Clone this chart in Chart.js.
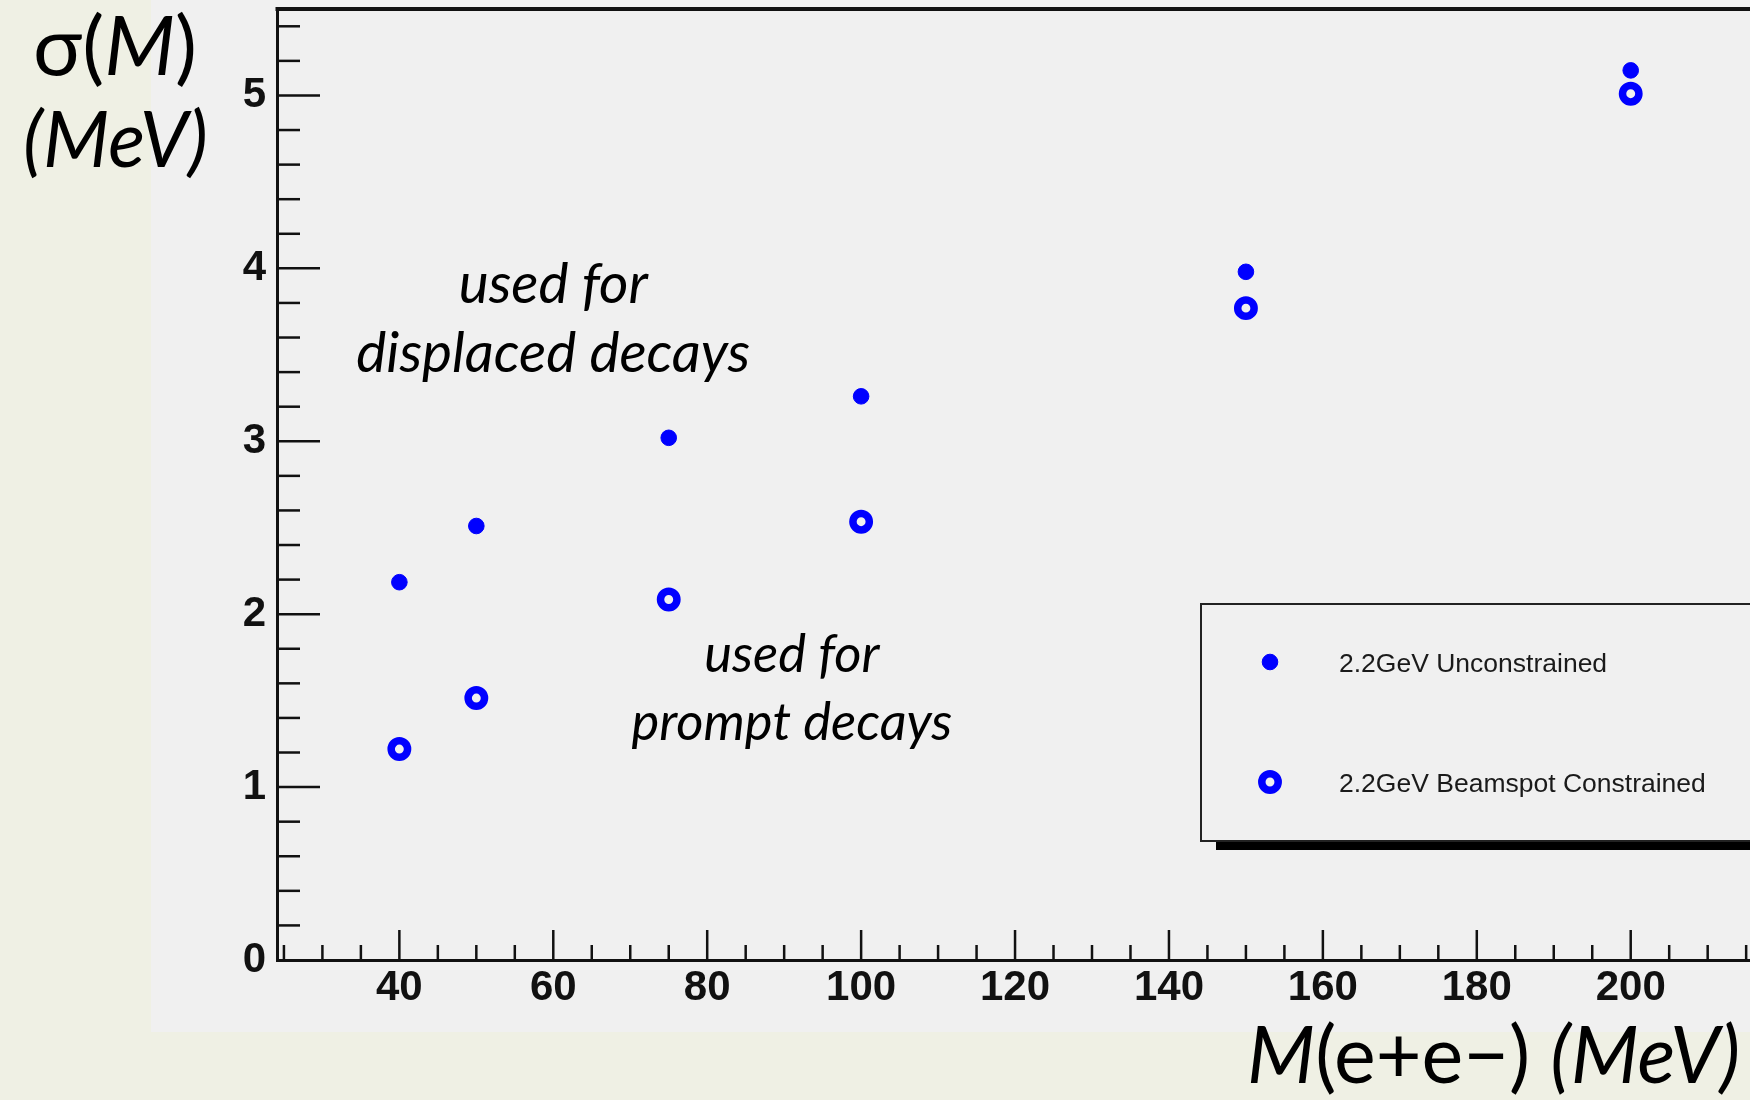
<!DOCTYPE html>
<html>
<head>
<meta charset="utf-8">
<script src="https://cdn.jsdelivr.net/npm/chart.js@4.4.1/dist/chart.umd.min.js"></script>
<style>
  html, body { margin: 0; padding: 0; background: #eff0e4; }
  #wrap { width: 1750px; height: 1100px; }
</style>
</head>
<body>
<div id="wrap"><canvas id="chart" width="1750" height="1100"></canvas></div>
<script>
// data
const masses = [40, 50, 75, 100, 150, 200];
const sigmaUnconstrained = [2.185, 2.51, 3.02, 3.26, 3.98, 5.145];
const sigmaConstrained = [1.22, 1.515, 2.085, 2.535, 3.77, 5.01];

const xLabelTicks = [40, 60, 80, 100, 120, 140, 160, 180, 200];
const yLabelTicks = [0, 1, 2, 3, 4, 5];

const seriesNames = ['2.2GeV Unconstrained', '2.2GeV Beamspot Constrained'];

const W = 1750, H = 1100;
const BLUE = '#0000ff';
const TEXT_FONT = 'Lato';
const TICK_FONT = 'Liberation Sans';

function toPoints(xs, ys) {
    return xs.map((x, i) => ({ x: x, y: ys[i] }));
}

// pick a font size so that the text gets the wanted width
function fitSize(ctx, runs, targetWidth) {
    let w = 0;
    runs.forEach(r => {
        ctx.font = (r[1] ? 'italic ' : '') + '100px ' + TEXT_FONT;
        w += ctx.measureText(r[0]).width;
    });
    return 100 * targetWidth / w;
}

// draws text made of upright / italic pieces
function drawRuns(ctx, runs, x, y, size, align) {
    const fonts = runs.map(r => (r[1] ? 'italic ' : '') + size + 'px ' + TEXT_FONT);
    let total = 0;
    const widths = runs.map((r, i) => {
        ctx.font = fonts[i];
        const w = ctx.measureText(r[0]).width;
        total += w;
        return w;
    });
    let cx = align === 'center' ? x - total / 2 : (align === 'right' ? x - total : x);
    ctx.textAlign = 'left';
    ctx.textBaseline = 'alphabetic';
    runs.forEach((r, i) => {
        ctx.font = fonts[i];
        ctx.fillText(r[0], cx, y);
        cx += widths[i];
    });
}

function line(ctx, x1, y1, x2, y2) {
    ctx.beginPath();
    ctx.moveTo(x1, y1);
    ctx.lineTo(x2, y2);
    ctx.stroke();
}

const backgroundPlugin = {
    id: 'background',
    beforeDraw(chart) {
        const ctx = chart.ctx;
        ctx.save();
        ctx.fillStyle = '#eff0e4';
        ctx.fillRect(0, 0, W, H);
        ctx.fillStyle = '#f0f0f0';
        ctx.fillRect(151, 0, W - 151, 1032);
        ctx.restore();
    }
};

// ROOT style tick marks pointing into the frame, plus the top frame line
const frameTicksPlugin = {
    id: 'frameTicks',
    beforeDatasetsDraw(chart) {
        const ctx = chart.ctx;
        const a = chart.chartArea;
        const xs = chart.scales.x, ys = chart.scales.y;
        ctx.save();
        ctx.strokeStyle = '#111';
        ctx.lineWidth = 2.5;
        for (let v = 25; v <= 215; v += 5) {
            const px = xs.getPixelForValue(v);
            const len = v % 20 === 0 ? 30 : 15;
            line(ctx, px, a.bottom, px, a.bottom - len);
        }
        for (let k = 1; k <= 27; k++) {
            const v = k / 5;
            const py = ys.getPixelForValue(v);
            const len = k % 5 === 0 ? 43 : 23;
            line(ctx, a.left, py, a.left + len, py);
        }
        ctx.lineWidth = 4;
        line(ctx, a.left - 1.5, a.top, W, a.top);
        ctx.restore();
    }
};

const textPlugin = {
    id: 'texts',
    afterDraw(chart) {
        const ctx = chart.ctx;
        const xs = chart.scales.x, ys = chart.scales.y;
        ctx.save();
        ctx.fillStyle = '#000';

        // annotations
        const upper = fitSize(ctx, [['displaced decays', true]], 394);
        drawRuns(ctx, [['used for', true]], xs.getPixelForValue(60), ys.getPixelForValue(3.797), upper, 'center');
        drawRuns(ctx, [['displaced decays', true]], xs.getPixelForValue(60), ys.getPixelForValue(3.401), upper, 'center');
        const lower = fitSize(ctx, [['prompt decays', true]], 321);
        drawRuns(ctx, [['used for', true]], xs.getPixelForValue(91), ys.getPixelForValue(1.664), lower, 'center');
        drawRuns(ctx, [['prompt decays', true]], xs.getPixelForValue(91), ys.getPixelForValue(1.275), lower, 'center');

        // axis titles
        const sigmaTitle = [['σ(', false], ['M', true], [')', false]];
        drawRuns(ctx, sigmaTitle, 115, 75, fitSize(ctx, sigmaTitle, 164), 'center');
        drawRuns(ctx, [['(MeV)', true]], 115.5, 167, fitSize(ctx, [['(MeV)', true]], 185), 'center');
        const xTitle = [['M', true], ['(e+e−) ', false], ['(MeV)', true]];
        const xTitleSize = fitSize(ctx, xTitle, 493);
        drawRuns(ctx, xTitle, 1740, 1083, xTitleSize, 'right');

        // legend box
        ctx.fillStyle = '#000';
        ctx.fillRect(1216, 841, W - 1216, 9);
        ctx.strokeStyle = '#222';
        ctx.lineWidth = 2;
        ctx.strokeRect(1201, 604, W, 237);
        const ds = chart.data.datasets;
        const rows = [662, 782];
        ds.forEach((d, i) => {
            ctx.beginPath();
            ctx.arc(1270, rows[i], d.pointRadius, 0, Math.PI * 2);
            if (d.backgroundColor !== 'rgba(0,0,0,0)') {
                ctx.fillStyle = d.backgroundColor;
                ctx.fill();
            }
            ctx.strokeStyle = d.borderColor;
            ctx.lineWidth = d.borderWidth;
            ctx.stroke();
            ctx.fillStyle = '#1a1a1a';
            ctx.font = '26.5px ' + TICK_FONT;
            ctx.textAlign = 'left';
            ctx.textBaseline = 'alphabetic';
            ctx.fillText(d.label, 1339, rows[i] + 10);
        });
        ctx.restore();
    }
};

new Chart(document.getElementById('chart'), {
    type: 'scatter',
    data: {
        datasets: [
            {
                label: seriesNames[0],
                data: toPoints(masses, sigmaUnconstrained),
                pointStyle: 'circle',
                pointRadius: 7.8,
                borderWidth: 1,
                backgroundColor: BLUE,
                borderColor: BLUE,
                showLine: false
            },
            {
                label: seriesNames[1],
                data: toPoints(masses, sigmaConstrained),
                pointStyle: 'circle',
                pointRadius: 8.2,
                borderWidth: 7.5,
                backgroundColor: 'rgba(0,0,0,0)',
                borderColor: BLUE,
                showLine: false
            }
        ]
    },
    options: {
        responsive: false,
        animation: false,
        layout: { autoPadding: false, padding: { top: 9, right: 0, left: 0, bottom: 0 } },
        plugins: {
            legend: { display: false },
            tooltip: { enabled: false }
        },
        scales: {
            x: {
                type: 'linear',
                min: 24.1,
                max: 215.5,
                afterBuildTicks: s => { s.ticks = xLabelTicks.map(v => ({ value: v })); },
                afterFit: s => { s.height = 140; s.paddingLeft = 0; s.paddingRight = 0; },
                grid: { display: false, drawTicks: false },
                border: { display: true, color: '#111', width: 3 },
                ticks: {
                    autoSkip: false,
                    maxRotation: 0,
                    padding: 7,
                    color: '#111',
                    font: { family: TICK_FONT, size: 42, weight: 'bold', lineHeight: 1 }
                }
            },
            y: {
                type: 'linear',
                min: 0,
                max: 5.5,
                afterBuildTicks: s => { s.ticks = yLabelTicks.map(v => ({ value: v })); },
                afterFit: s => { s.width = 277; s.paddingTop = 0; s.paddingBottom = 0; },
                grid: { display: false, drawTicks: false },
                border: { display: true, color: '#111', width: 3 },
                ticks: {
                    padding: 11,
                    color: '#111',
                    font: { family: TICK_FONT, size: 42, weight: 'bold', lineHeight: 1 }
                }
            }
        }
    },
    plugins: [backgroundPlugin, frameTicksPlugin, textPlugin]
});
</script>
</body>
</html>
